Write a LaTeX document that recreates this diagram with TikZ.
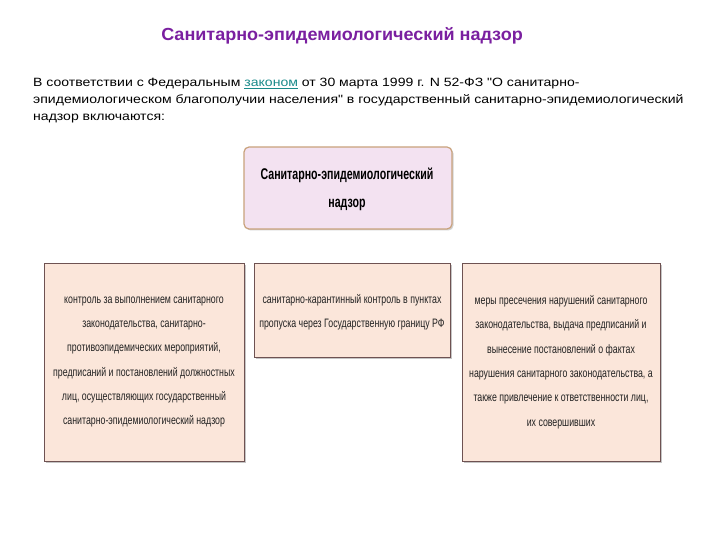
\documentclass[tikz,border=0pt]{standalone}
\usepackage{fontspec}
\setmainfont{Liberation Sans}
\newfontfamily\condfont[FakeStretch=0.72]{Liberation Sans}
\newfontfamily\topfont[FakeStretch=0.685]{Liberation Sans}
\newfontfamily\parafont[FakeStretch=1.17]{Liberation Sans}
\newfontfamily\titlefont[FakeStretch=1.03]{Liberation Sans}
\usetikzlibrary{shadows}
\definecolor{titlecol}{HTML}{7A1FA0}
\definecolor{linkcol}{HTML}{1A8A8A}
\definecolor{topfill}{HTML}{F3E2F1}
\definecolor{topdraw}{HTML}{C9A27C}
\definecolor{boxfill}{HTML}{FBE6DA}
\definecolor{boxdraw}{HTML}{6E5252}
\definecolor{txt}{HTML}{222222}
\begin{document}
\begin{tikzpicture}[x=1pt,y=-1pt,
  topbox/.style={draw=topdraw,line width=1.2pt,fill=topfill,rounded corners=5pt,
    drop shadow={shadow xshift=1.5pt,shadow yshift=-1.5pt,fill=black!35}},
  lowbox/.style={draw=boxdraw,line width=1pt,fill=boxfill,
    drop shadow={shadow xshift=1.5pt,shadow yshift=-1.5pt,fill=black!45}},
  lowtext/.style={align=center,font=\condfont\fontsize{12.2}{24.3}\selectfont,text=txt}]
\useasboundingbox (0,0) rectangle (720,540);
\fill[white] (0,0) rectangle (720,540);
\node[text=titlecol,font=\titlefont\bfseries\fontsize{17.5}{20}\selectfont] (title) at (342,35.5) {Санитарно-эпидемиологический надзор};
\node[anchor=base west,align=left,inner sep=0pt,font=\parafont\fontsize{12}{17}\selectfont,text=black] (para) at (33,121)
 {В соответствии с Федеральным {\color{linkcol}\underline{законом}} от 30 марта 1999 г. N 52-ФЗ "О санитарно-\\
 эпидемиологическом благополучии населения" в государственный санитарно-эпидемиологический\\
 надзор включаются:};
\draw[topbox] (244,147) rectangle (452,229);
\node[align=center,font=\topfont\bfseries\fontsize{15.5}{28}\selectfont] (top) at (347,189) {Санитарно-эпидемиологический\\надзор};
\draw[lowbox] (44,263) rectangle (244,461);
\node[lowtext] (l) at (144,362) {контроль за выполнением санитарного\\законодательства, санитарно-\\противоэпидемических мероприятий,\\предписаний и постановлений должностных\\лиц, осуществляющих государственный\\санитарно-эпидемиологический надзор};
\draw[lowbox] (254,263) rectangle (450,357);
\node[lowtext] (m) at (352,312) {санитарно-карантинный контроль в пунктах\\пропуска через Государственную границу РФ};
\draw[lowbox] (462,263) rectangle (660,461);
\node[lowtext] (r) at (561,362) {меры пресечения нарушений санитарного\\законодательства, выдача предписаний и\\вынесение постановлений о фактах\\нарушения санитарного законодательства, а\\также привлечение к ответственности лиц,\\их совершивших};
\end{tikzpicture}
\end{document}
